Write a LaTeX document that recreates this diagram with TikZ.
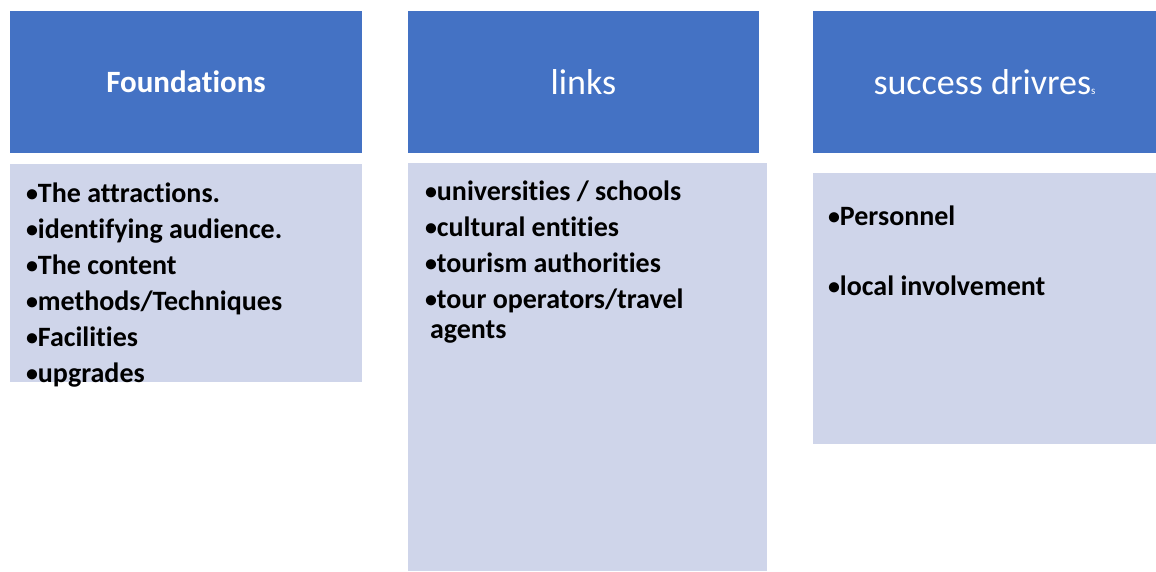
\documentclass[tikz,border=0pt]{standalone}
\usepackage{fontspec}
\setmainfont{Carlito}[Ligatures=NoCommon]
\usetikzlibrary{positioning,calc}

\definecolor{headblue}{RGB}{68,114,196}
\definecolor{bodyblue}{RGB}{207,213,234}
\newcommand{\bul}{\raisebox{1.5pt}{\fontsize{24}{24}\selectfont •}}

\begin{document}
\begin{tikzpicture}[x=1pt,y=1pt,
    header/.style={rectangle,fill=headblue,text=white,minimum height=142pt,outer sep=0pt,inner sep=0pt,anchor=north west},
    body/.style={rectangle,fill=bodyblue,outer sep=0pt,inner sep=0pt,anchor=north west},
    items/.style={align=left,inner sep=0pt,outer sep=0pt,anchor=north west,font=\fontsize{28}{36}\selectfont\bfseries}]

      \useasboundingbox (0,0) rectangle (1156,-571);

      \node[header,minimum width=352pt,font=\fontsize{31}{36}\selectfont\bfseries] at (10,-11) (h1) {Foundations};

      \coordinate[right = 46pt of h1.north east] (h2c);
      \node[header,minimum width=351pt,font=\fontsize{36}{42}\selectfont] at (h2c) (h2) {links};

      \coordinate[right = 54pt of h2.north east] (h3c);
      \node[header,minimum width=343pt,font=\fontsize{36}{42}\selectfont] at (h3c) (h3) {success drivres{\fontsize{11}{11}\selectfont s}};

      \coordinate[below = 11pt of h1.south west] (b1c);
      \coordinate[below = 10pt of h2.south west] (b2c);
      \coordinate[below = 20pt of h3.south west] (b3c);
      \node[body,minimum width=352pt,minimum height=218pt] at (b1c) (b1) {};
      \node[body,minimum width=359pt,minimum height=408pt] at (b2c) (b2) {};
      \node[body,minimum width=343pt,minimum height=271pt] at (b3c) (b3) {};

      \coordinate[below right = 19pt and 16pt of b1.north west] (l1c);
      \coordinate[below right = 18pt and 17pt of b2.north west] (l2c);
      \coordinate[below right = 33pt and 15pt of b3.north west] (l3c);

      \node[items] at (l1c) (l1) {\bul The attractions.\\\bul identifying audience.\\\bul The content\\\bul methods/Techniques\\\bul Facilities\\\bul upgrades};
      \node[items] at (l2c) (l2) {\bul universities / schools\\\bul cultural entities\\\bul tourism authorities\\\bul tour operators/travel\\[-6pt]\hspace{5pt}agents};
      \node[items] at (l3c) (l3) {\bul Personnel\\[34pt]\bul local involvement};

    \end{tikzpicture}
\end{document}
